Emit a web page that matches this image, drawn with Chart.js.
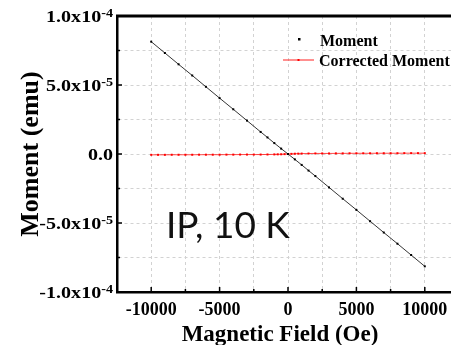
<!DOCTYPE html>
<html>
<head>
<meta charset="utf-8">
<script src="https://cdn.jsdelivr.net/npm/chart.js@4.4.0/dist/chart.umd.min.js"></script>
<style>
  html, body { margin: 0; padding: 0; background: #ffffff; overflow: hidden; }
  #wrap { width: 470px; height: 345px; }
</style>
</head>
<body>
<div id="wrap"><canvas id="c" width="470" height="345"></canvas></div>
<script>
// field (Oe)
const field = [-10000, -9000, -8000, -7000, -6000, -5000, -4000, -3000, -2000, -1500, -1000, -500,
  0, 500, 1000, 1500, 2000, 3000, 4000, 5000, 6000, 7000, 8000, 9000, 10000];
// moment (emu)
const moment = [8.14e-5, 7.32e-5, 6.50e-5, 5.69e-5, 4.87e-5, 4.05e-5, 3.24e-5, 2.42e-5, 1.60e-5, 1.20e-5, 0.79e-5, 0.39e-5,
  0, -0.39e-5, -0.79e-5, -1.20e-5, -1.60e-5, -2.42e-5, -3.24e-5, -4.05e-5, -4.87e-5, -5.69e-5, -6.50e-5, -7.32e-5, -8.14e-5];
// corrected moment is plotted on a finer field grid
const corrField = [-10000, -9500, -9000, -8500, -8000, -7500, -7000, -6500, -6000, -5500, -5000, -4500, -4000, -3500,
  -3000, -2500, -2000, -1500, -1000, -750, -500, -250, 0, 250, 500, 750, 1000, 1500, 2000, 2500, 3000, 3500, 4000,
  4500, 5000, 5500, 6000, 6500, 7000, 7500, 8000, 8500, 9000, 9500, 10000];
const corrected = [-6e-7, -6e-7, -6e-7, -5.5e-7, -5.5e-7, -5.5e-7, -5.5e-7, -5e-7, -5e-7, -5e-7, -5e-7, -4.5e-7, -4.5e-7, -4e-7,
  -4e-7, -4e-7, -4e-7, -3.5e-7, -3e-7, -2.5e-7, -2e-7, -1e-7, 0, 1e-7, 2e-7, 2.5e-7, 3e-7, 3.5e-7, 4e-7, 4e-7, 4e-7, 4.5e-7, 4.5e-7,
  5e-7, 5e-7, 5e-7, 5e-7, 5.5e-7, 5.5e-7, 5.5e-7, 5.5e-7, 6e-7, 6e-7, 6e-7, 6e-7];

const xTickLabels = { '-10000': '-10000', '-5000': '-5000', '0': '0', '5000': '5000', '10000': '10000' };
// y tick labels: value, mantissa text, exponent
const yTickValues = [1e-4, 5e-5, 0, -5e-5, -1e-4];
const yTickBase = ['1.0x10', '5.0x10', '0.0', '-5.0x10', '-1.0x10'];
const yTickExp = ['-4', '-5', '', '-5', '-4'];

const serif = "'Liberation Serif', 'Times New Roman', serif";

const extras = {
  id: 'extras',
  afterDraw(chart) {
    const ctx = chart.ctx;
    const a = chart.chartArea;
    const xs = chart.scales.x, ys = chart.scales.y;
    ctx.save();
    // top frame
    ctx.strokeStyle = '#000';
    ctx.lineWidth = 3;
    ctx.beginPath();
    ctx.moveTo(a.left - 1, a.top);
    ctx.lineTo(a.right, a.top);
    ctx.stroke();
    // inward ticks
    ctx.lineWidth = 1.5;
    for (let v = -10000; v <= 10000; v += 2500) {
      const px = xs.getPixelForValue(v);
      const len = v % 5000 === 0 ? 5 : 3;
      ctx.beginPath();
      ctx.moveTo(px, a.bottom);
      ctx.lineTo(px, a.bottom - len);
      ctx.stroke();
    }
    for (let k = -3; k <= 3; k++) {
      const py = ys.getPixelForValue(k * 2.5e-5);
      const len = k % 2 === 0 ? 5 : 3;
      ctx.beginPath();
      ctx.moveTo(a.left, py);
      ctx.lineTo(a.left + len, py);
      ctx.stroke();
    }
    // y tick labels with superscript exponents (slightly widened like the original)
    ctx.fillStyle = '#000';
    ctx.textBaseline = 'alphabetic';
    const sx = 1.18;
    yTickValues.forEach((v, i) => {
      const py = ys.getPixelForValue(v);
      let right = a.left - 4;
      ctx.save();
      ctx.scale(sx, 1);
      if (yTickExp[i]) {
        ctx.font = 'bold 12px ' + serif;
        const ew = ctx.measureText(yTickExp[i]).width * sx;
        ctx.fillText(yTickExp[i], (right - ew) / sx, py + 1);
        right -= ew;
      }
      ctx.font = 'bold 17px ' + serif;
      const bw = ctx.measureText(yTickBase[i]).width * sx;
      ctx.fillText(yTickBase[i], (right - bw) / sx, py + 6);
      ctx.restore();
    });
    // x axis title
    ctx.font = 'bold 23px ' + serif;
    ctx.textAlign = 'center';
    ctx.fillText('Magnetic Field (Oe)', 280, 341);
    ctx.textAlign = 'left';
    // legend
    ctx.font = 'bold 16px ' + serif;
    ctx.fillRect(298, 38, 2.5, 2.5);
    ctx.fillText('Moment', 320, 46);
    ctx.strokeStyle = '#ff2020';
    ctx.lineWidth = 1;
    ctx.beginPath();
    ctx.moveTo(283, 60);
    ctx.lineTo(314, 60);
    ctx.stroke();
    ctx.fillStyle = '#ff0000';
    ctx.fillRect(297.5, 59, 2, 2);
    ctx.fillStyle = '#000';
    ctx.fillText('Corrected Moment', 319, 66);
    // annotation
    ctx.font = "37px Lato, 'Noto Sans', sans-serif";
    ctx.fillStyle = '#111';
    ctx.fillText('IP, 10 K', 166, 238);
    ctx.restore();
  }
};

new Chart(document.getElementById('c'), {
  type: 'scatter',
  data: {
    datasets: [
      {
        label: 'Moment',
        data: field.map((h, i) => ({ x: h, y: moment[i] })),
        showLine: true,
        borderColor: '#000',
        borderWidth: 0.8,
        backgroundColor: '#000',
        pointStyle: 'rect',
        pointRadius: 1.4,
        pointBorderWidth: 0
      },
      {
        label: 'Corrected Moment',
        data: corrField.map((h, i) => ({ x: h, y: corrected[i] })),
        showLine: true,
        borderColor: '#ff1a1a',
        borderWidth: 0.8,
        backgroundColor: '#ff0000',
        pointStyle: 'rect',
        pointRadius: 1.4,
        pointBorderWidth: 0
      }
    ]
  },
  options: {
    responsive: false,
    animation: false,
    events: [],
    layout: { padding: { top: 16, right: 11, left: 16, bottom: 0 } },
    plugins: { legend: { display: false }, tooltip: { enabled: false } },
    scales: {
      x: {
        type: 'linear',
        min: -12500,
        max: 12500,
        afterFit: (s) => { s.height = 53; },
        afterBuildTicks: (s) => {
          const t = [];
          for (let v = -12500; v <= 12500; v += 2500) t.push({ value: v });
          s.ticks = t;
        },
        border: { display: true, color: '#000', width: 2.5, dash: [3, 3] },
        grid: { color: '#d2d2d2', lineWidth: 1, drawTicks: false },
        ticks: {
          autoSkip: false,
          maxRotation: 0,
          padding: 8,
          color: '#000',
          font: { family: serif, size: 18, weight: 'bold' },
          callback: (v) => xTickLabels[String(v)] || ''
        },
        title: { display: false }
      },
      y: {
        type: 'linear',
        min: -1e-4,
        max: 1e-4,
        afterFit: (s) => { s.width = 101; },
        afterBuildTicks: (s) => {
          const t = [];
          for (let k = -4; k <= 4; k++) t.push({ value: k * 2.5e-5 });
          s.ticks = t;
        },
        border: { display: true, color: '#000', width: 2.5, dash: [3, 3] },
        grid: { color: '#d2d2d2', lineWidth: 1, drawTicks: false },
        ticks: {
          autoSkip: false,
          color: '#000',
          font: { family: serif, size: 16, weight: 'bold' },
          callback: () => ''
        },
        title: {
          display: true,
          text: 'Moment (emu)',
          color: '#000',
          font: { family: serif, size: 26, weight: 'bold' },
          padding: { top: 0, bottom: 0 }
        }
      }
    }
  },
  plugins: [extras]
});
</script>
</body>
</html>
